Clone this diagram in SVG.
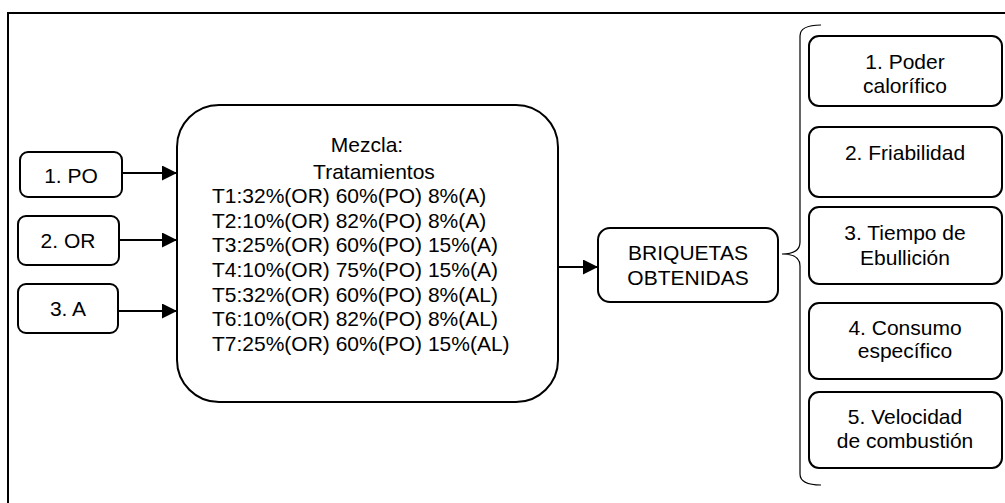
<svg xmlns="http://www.w3.org/2000/svg" width="1005" height="503" viewBox="0 0 1005 503">
<style>
text{font-family:"Liberation Sans",Arial,sans-serif;font-size:21px;fill:#000}
.c{text-anchor:middle}
.box{fill:#fff;stroke:#000;stroke-width:2}
.ln{stroke:#000;stroke-width:2;fill:none}
</style>
<defs>
<marker id="ah" markerWidth="15" markerHeight="15" refX="15" refY="7.5" orient="auto" markerUnits="userSpaceOnUse">
<path d="M0,0 L15,7.5 L0,15 Z" fill="#000"/>
</marker>
</defs>
<rect width="1005" height="503" fill="#fff"/>
<path class="ln" d="M8,503 L8,13 L1005,13"/>
<g id="connectors">
<line class="ln" x1="122" y1="173" x2="177" y2="173" marker-end="url(#ah)"/>
<line class="ln" x1="119" y1="240" x2="177" y2="240" marker-end="url(#ah)"/>
<line class="ln" x1="118" y1="311" x2="177" y2="311" marker-end="url(#ah)"/>
<line class="ln" x1="558" y1="267" x2="598" y2="267" marker-end="url(#ah)"/>
<path d="M821,25 Q800,25 800,36 L800,242 Q800,254 782,254 Q800,254 800,266 L800,474 Q800,485 821,485" fill="none" stroke="#000" stroke-width="1.2"/>
</g>
<g id="po"><rect class="box" x="20" y="152" width="102" height="45" rx="8"/><text class="c" x="71" y="183">1. PO</text></g>
<g id="or"><rect class="box" x="18" y="216" width="101" height="49" rx="8"/><text class="c" x="68" y="248">2. OR</text></g>
<g id="a"><rect class="box" x="18" y="284" width="100" height="49" rx="8"/><text class="c" x="68" y="316">3. A</text></g>
<g id="mezcla"><rect class="box" x="177" y="105" width="381" height="297" rx="42"/>
<text class="c" x="367" y="152">Mezcla:</text>
<text class="c" x="374" y="179">Tratamientos</text>
<text x="212" y="203">T1:32%(OR) 60%(PO) 8%(A)</text>
<text x="212" y="228">T2:10%(OR) 82%(PO) 8%(A)</text>
<text x="212" y="252">T3:25%(OR) 60%(PO) 15%(A)</text>
<text x="212" y="277">T4:10%(OR) 75%(PO) 15%(A)</text>
<text x="212" y="302">T5:32%(OR) 60%(PO) 8%(AL)</text>
<text x="212" y="326">T6:10%(OR) 82%(PO) 8%(AL)</text>
<text x="212" y="351">T7:25%(OR) 60%(PO) 15%(AL)</text>
</g>
<g id="briquetas"><rect class="box" x="598" y="228" width="180" height="74" rx="12"/>
<text class="c" x="688" y="260">BRIQUETAS</text><text class="c" x="688" y="285">OBTENIDAS</text></g>
<g id="r1"><rect class="box" x="809" y="36" width="193" height="70" rx="10"/><text class="c" x="905" y="69">1. Poder</text><text class="c" x="905" y="93">calorífico</text></g>
<g id="r2"><rect class="box" x="809" y="127" width="193" height="70" rx="10"/><text class="c" x="905" y="160">2. Friabilidad</text></g>
<g id="r3"><rect class="box" x="809" y="207" width="193" height="77" rx="10"/><text class="c" x="905" y="240">3. Tiempo de</text><text class="c" x="905" y="265">Ebullición</text></g>
<g id="r4"><rect class="box" x="809" y="303" width="193" height="76" rx="10"/><text class="c" x="905" y="335">4. Consumo</text><text class="c" x="905" y="358">específico</text></g>
<g id="r5"><rect class="box" x="809" y="392" width="193" height="76" rx="10"/><text class="c" x="905" y="424">5. Velocidad</text><text class="c" x="905" y="448">de combustión</text></g>
</svg>
